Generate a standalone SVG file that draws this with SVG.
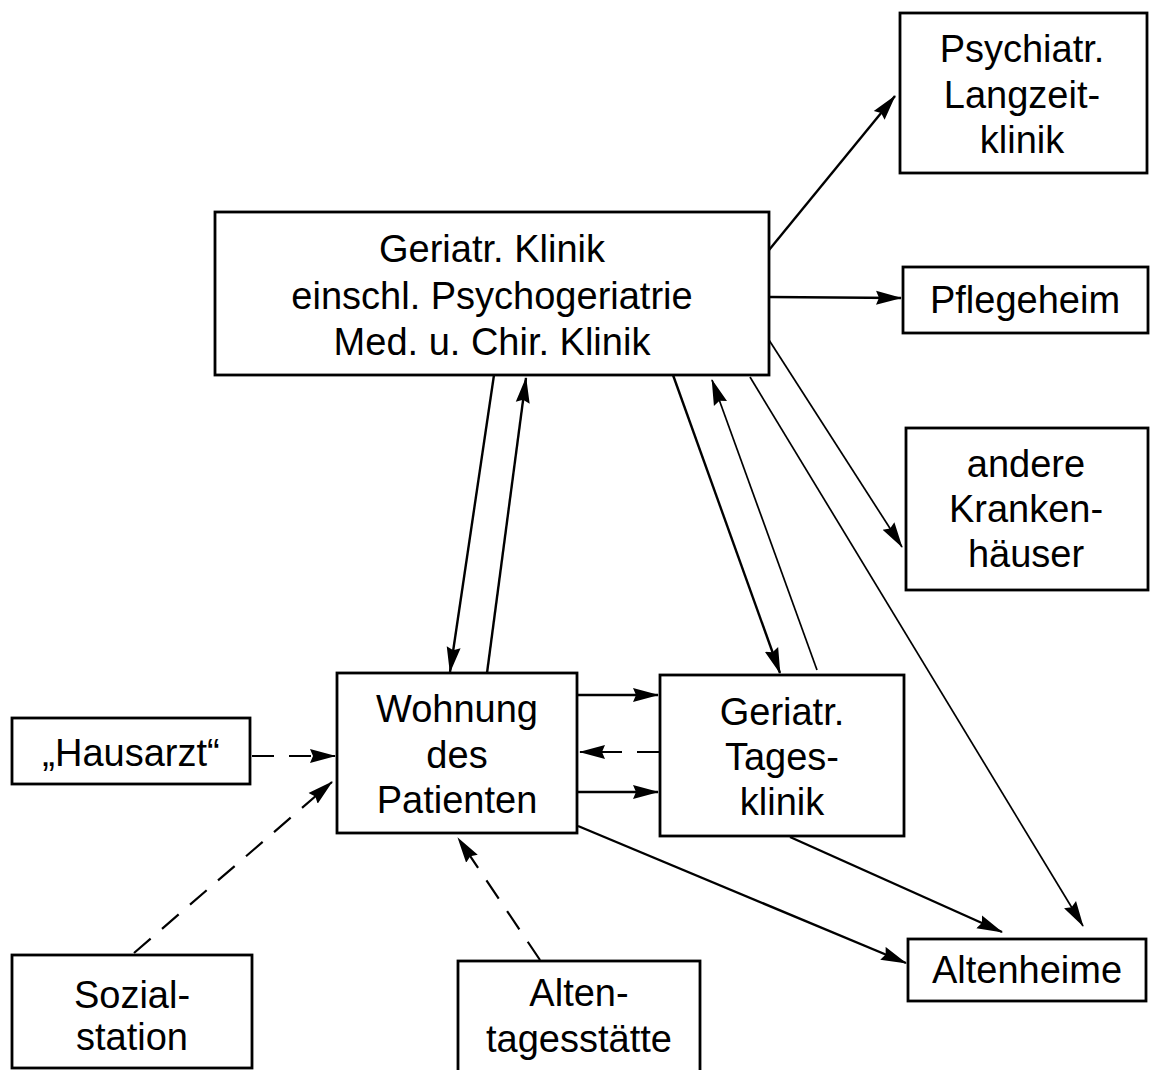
<svg xmlns="http://www.w3.org/2000/svg" width="1153" height="1070" viewBox="0 0 1153 1070">
<style>
.box{fill:#fff;stroke:#000;stroke-width:2.8}
.t{font-family:"Liberation Sans",Arial,sans-serif;font-size:38px;fill:#000;text-anchor:middle}
.c{stroke:#000;stroke-width:2.4;fill:none}
.thin{stroke:#000;stroke-width:1.7;fill:none}
.d{stroke:#000;stroke-width:2.2;fill:none;stroke-dasharray:22 15}
</style>
<defs>
<marker id="ah" markerWidth="26" markerHeight="15" refX="25" refY="7.5" orient="auto" markerUnits="userSpaceOnUse">
<path d="M0,0.5 L26,7.5 L0,14.5 L3,7.5 Z" fill="#000"/>
</marker>
</defs>
<rect width="1153" height="1070" fill="#fff"/>
<g id="connectors">
<line class="c" x1="769" y1="250" x2="895" y2="96" marker-end="url(#ah)"/>
<line class="c" x1="769" y1="297" x2="901" y2="298" marker-end="url(#ah)"/>
<line class="thin" x1="769" y1="340" x2="902" y2="547" marker-end="url(#ah)"/>
<line class="thin" x1="750" y1="377" x2="1083" y2="926" marker-end="url(#ah)"/>
<line class="c" x1="494" y1="375" x2="450" y2="672" marker-end="url(#ah)"/>
<line class="c" x1="487" y1="673" x2="526" y2="378" marker-end="url(#ah)"/>
<line class="c" x1="673" y1="375" x2="780" y2="673" marker-end="url(#ah)"/>
<line class="thin" x1="817" y1="670" x2="712" y2="380" marker-end="url(#ah)"/>
<line class="c" x1="577" y1="695" x2="658" y2="695" marker-end="url(#ah)"/>
<line class="d" x1="659" y1="752" x2="580" y2="752" marker-end="url(#ah)"/>
<line class="c" x1="577" y1="792" x2="658" y2="792" marker-end="url(#ah)"/>
<line class="d" x1="252" y1="756" x2="335" y2="756" marker-end="url(#ah)"/>
<line class="d" x1="134" y1="953" x2="332" y2="782" marker-end="url(#ah)"/>
<line class="d" x1="540" y1="960" x2="458" y2="838" marker-end="url(#ah)"/>
<line class="c" x1="578" y1="826" x2="906" y2="963" marker-end="url(#ah)"/>
<line class="c" x1="790" y1="837" x2="1002" y2="932" marker-end="url(#ah)"/>
</g>
<g id="n-main"><rect class="box" x="215" y="212" width="554" height="163"/>
<text class="t" x="492" y="262">Geriatr. Klinik</text>
<text class="t" x="492" y="309">einschl. Psychogeriatrie</text>
<text class="t" x="492" y="355">Med. u. Chir. Klinik</text></g>
<g id="n-psych"><rect class="box" x="900" y="13" width="247" height="160"/>
<text class="t" x="1022" y="62">Psychiatr.</text>
<text class="t" x="1022" y="108">Langzeit-</text>
<text class="t" x="1022" y="153">klinik</text></g>
<g id="n-pflege"><rect class="box" x="903" y="267" width="245" height="66"/>
<text class="t" x="1025" y="313">Pflegeheim</text></g>
<g id="n-andere"><rect class="box" x="906" y="428" width="242" height="162"/>
<text class="t" x="1026" y="477">andere</text>
<text class="t" x="1026" y="522">Kranken-</text>
<text class="t" x="1026" y="567">häuser</text></g>
<g id="n-wohnung"><rect class="box" x="337" y="673" width="240" height="160"/>
<text class="t" x="457" y="722">Wohnung</text>
<text class="t" x="457" y="768">des</text>
<text class="t" x="457" y="813">Patienten</text></g>
<g id="n-tages"><rect class="box" x="660" y="675" width="244" height="161"/>
<text class="t" x="782" y="725">Geriatr.</text>
<text class="t" x="782" y="770">Tages-</text>
<text class="t" x="782" y="815">klinik</text></g>
<g id="n-hausarzt"><rect class="box" x="12" y="718" width="238" height="66"/>
<text class="t" x="131" y="766">„Hausarzt“</text></g>
<g id="n-sozial"><rect class="box" x="12" y="955" width="240" height="113"/>
<text class="t" x="132" y="1008">Sozial-</text>
<text class="t" x="132" y="1050">station</text></g>
<g id="n-alten"><rect class="box" x="458" y="961" width="242" height="115"/>
<text class="t" x="579" y="1006">Alten-</text>
<text class="t" x="579" y="1052">tagesstätte</text></g>
<g id="n-altenheime"><rect class="box" x="908" y="939" width="238" height="62"/>
<text class="t" x="1027" y="983">Altenheime</text></g>
</svg>
